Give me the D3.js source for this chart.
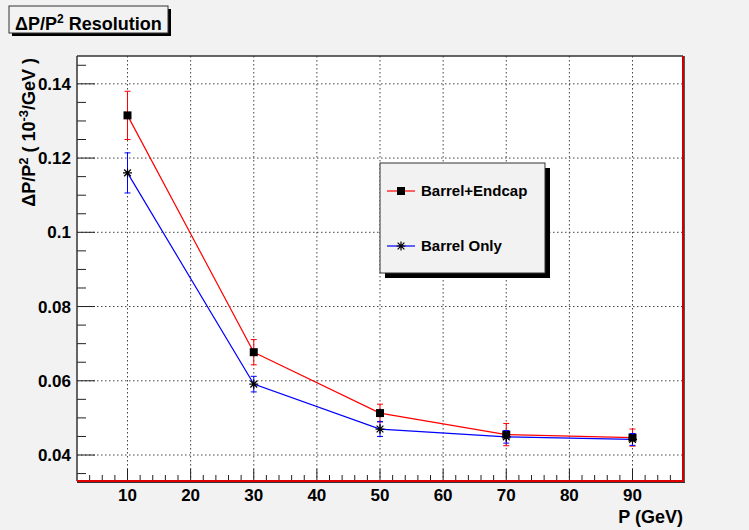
<!DOCTYPE html>
<html>
<head>
<meta charset="utf-8">
<script src="https://cdn.jsdelivr.net/npm/d3@7"></script>
<style>
  body { margin: 0; background: #f2f2f2; }
  text { font-family: "Liberation Sans", Arial, sans-serif; font-weight: bold; }
</style>
</head>
<body>
<script>
// momentum points (GeV)
var momenta = [10, 30, 50, 70, 90];

// Barrel+Endcap resolution and errors
var endcapValues = [0.1315, 0.0677, 0.0513, 0.0455, 0.0447];
var endcapErrors = [0.0065, 0.0034, 0.0024, 0.0030, 0.0023];

// Barrel only resolution and errors
var barrelValues = [0.1160, 0.0591, 0.0470, 0.0449, 0.0442];
var barrelErrors = [0.0054, 0.0021, 0.0020, 0.0017, 0.0016];

var xTicks = [10, 20, 30, 40, 50, 60, 70, 80, 90];
var yTicks = [0.04, 0.06, 0.08, 0.1, 0.12, 0.14];

var width = 749;
var height = 530;

var svg = d3.select("body").append("svg")
    .attr("width", width)
    .attr("height", height);

svg.append("rect")
    .attr("width", width)
    .attr("height", height)
    .attr("fill", "#f2f2f2");

var padL = 77, padR = 683, padT = 56, padB = 481;

var x = d3.scaleLinear().domain([2, 98]).range([padL, padR]);
var y = d3.scaleLinear().domain([0.033, 0.1475]).range([padB, padT]);

// plot area
svg.append("rect")
    .attr("x", padL).attr("y", padT)
    .attr("width", padR - padL).attr("height", padB - padT)
    .attr("fill", "white");

// grid
svg.append("g").selectAll("line")
    .data(xTicks)
    .enter().append("line")
    .attr("x1", function(d) { return x(d); })
    .attr("x2", function(d) { return x(d); })
    .attr("y1", padT).attr("y2", padB)
    .attr("stroke", "#444")
    .attr("stroke-dasharray", "1.5,2.5");

svg.append("g").selectAll("line")
    .data(yTicks)
    .enter().append("line")
    .attr("y1", function(d) { return y(d); })
    .attr("y2", function(d) { return y(d); })
    .attr("x1", padL).attr("x2", padR)
    .attr("stroke", "#444")
    .attr("stroke-dasharray", "1.5,2.5");

// minor / major ticks on x
var xMinor = d3.range(4, 98, 2);
svg.append("g").selectAll("line")
    .data(xMinor)
    .enter().append("line")
    .attr("x1", function(d) { return x(d); })
    .attr("x2", function(d) { return x(d); })
    .attr("y1", padB)
    .attr("y2", function(d) { return d % 10 == 0 ? padB - 12 : padB - 6; })
    .attr("stroke", "#222");

// minor / major ticks on y
var yMinor = d3.range(0.035, 0.1475, 0.005);
svg.append("g").selectAll("line")
    .data(yMinor)
    .enter().append("line")
    .attr("y1", function(d) { return y(d); })
    .attr("y2", function(d) { return y(d); })
    .attr("x1", padL)
    .attr("x2", function(d) { return Math.round(d * 1000) % 20 == 0 ? padL + 18 : padL + 9; })
    .attr("stroke", "#222");

// frame
svg.append("line").attr("x1", padL).attr("x2", padR).attr("y1", padT).attr("y2", padT)
    .attr("stroke", "#333").attr("stroke-width", 1.5);
svg.append("line").attr("x1", padL).attr("x2", padL).attr("y1", padT).attr("y2", padB)
    .attr("stroke", "#333").attr("stroke-width", 1.5);
svg.append("line").attr("x1", padR).attr("x2", padR).attr("y1", padT).attr("y2", padB)
    .attr("stroke", "#d00000").attr("stroke-width", 2);
svg.append("line").attr("x1", padR + 1.5).attr("x2", padR + 1.5).attr("y1", padT).attr("y2", padB + 1)
    .attr("stroke", "#555").attr("stroke-width", 1);
svg.append("line").attr("x1", padL).attr("x2", padR + 1).attr("y1", padB).attr("y2", padB)
    .attr("stroke", "#e00000").attr("stroke-width", 2);
svg.append("line").attr("x1", padL).attr("x2", padR + 2).attr("y1", padB + 1.5).attr("y2", padB + 1.5)
    .attr("stroke", "#333").attr("stroke-width", 1);

// tick labels
svg.append("g").selectAll("text")
    .data(xTicks)
    .enter().append("text")
    .attr("x", function(d) { return x(d); })
    .attr("y", 501)
    .attr("text-anchor", "middle")
    .attr("font-size", 17)
    .text(function(d) { return d; });

svg.append("g").selectAll("text")
    .data(yTicks)
    .enter().append("text")
    .attr("x", 71)
    .attr("y", function(d) { return y(d) + 6; })
    .attr("text-anchor", "end")
    .attr("font-size", 17)
    .text(function(d) { return d3.format("")(d); });

// axis titles
svg.append("text")
    .attr("x", padR).attr("y", 523)
    .attr("text-anchor", "end")
    .attr("font-size", 18)
    .text("P (GeV)");

var yt = svg.append("text")
    .attr("transform", "translate(35," + (padT + 2) + ") rotate(-90)")
    .attr("text-anchor", "end")
    .attr("font-size", 18);
yt.append("tspan").text("\u0394P/P");
yt.append("tspan").attr("dy", -7).attr("font-size", 13).text("2");
yt.append("tspan").attr("dy", 7).text(" ( 10");
yt.append("tspan").attr("dy", -7).attr("font-size", 13).text("-3");
yt.append("tspan").attr("dy", 7).text("/GeV )");

// series
function drawSeries(values, errors, color, marker) {
    var pts = momenta.map(function(m, i) { return {x: m, y: values[i], e: errors[i]}; });
    var line = d3.line()
        .x(function(d) { return x(d.x); })
        .y(function(d) { return y(d.y); });
    svg.append("path")
        .datum(pts)
        .attr("d", line)
        .attr("fill", "none")
        .attr("stroke", color)
        .attr("stroke-width", 1.2);

    var err = svg.append("g").attr("stroke", color).attr("stroke-width", 1);
    err.selectAll(".bar").data(pts).enter().append("line")
        .attr("x1", function(d) { return x(d.x); })
        .attr("x2", function(d) { return x(d.x); })
        .attr("y1", function(d) { return y(d.y - d.e); })
        .attr("y2", function(d) { return y(d.y + d.e); });
    err.selectAll(".capt").data(pts).enter().append("line")
        .attr("x1", function(d) { return x(d.x) - 3; })
        .attr("x2", function(d) { return x(d.x) + 3; })
        .attr("y1", function(d) { return y(d.y + d.e); })
        .attr("y2", function(d) { return y(d.y + d.e); });
    err.selectAll(".capb").data(pts).enter().append("line")
        .attr("x1", function(d) { return x(d.x) - 3; })
        .attr("x2", function(d) { return x(d.x) + 3; })
        .attr("y1", function(d) { return y(d.y - d.e); })
        .attr("y2", function(d) { return y(d.y - d.e); });

    pts.forEach(function(d) { marker(svg, x(d.x), y(d.y)); });
}

function squareMarker(g, cx, cy) {
    g.append("rect")
        .attr("x", cx - 4).attr("y", cy - 4)
        .attr("width", 8).attr("height", 8)
        .attr("fill", "black");
}

function starMarker(g, cx, cy) {
    var r = 4.5;
    var p = "M" + (cx - r) + "," + cy + "H" + (cx + r) +
            "M" + cx + "," + (cy - r) + "V" + (cy + r) +
            "M" + (cx - r * 0.75) + "," + (cy - r * 0.75) + "L" + (cx + r * 0.75) + "," + (cy + r * 0.75) +
            "M" + (cx - r * 0.75) + "," + (cy + r * 0.75) + "L" + (cx + r * 0.75) + "," + (cy - r * 0.75);
    g.append("path").attr("d", p).attr("stroke", "black").attr("stroke-width", 1.2).attr("fill", "none");
}

drawSeries(endcapValues, endcapErrors, "#ff0000", squareMarker);
drawSeries(barrelValues, barrelErrors, "#0000ff", starMarker);

// legend
var lx = 380, ly = 163, lw = 165, lh = 110;
svg.append("rect").attr("x", lx + 5).attr("y", ly + 5).attr("width", lw).attr("height", lh).attr("fill", "black");
svg.append("rect").attr("x", lx).attr("y", ly).attr("width", lw).attr("height", lh)
    .attr("fill", "#f2f2f2").attr("stroke", "#333").attr("stroke-width", 1);

var legendRows = [
    {label: "Barrel+Endcap", color: "#ff0000", marker: squareMarker, y: 191},
    {label: "Barrel Only", color: "#0000ff", marker: starMarker, y: 246}
];
legendRows.forEach(function(r) {
    svg.append("line").attr("x1", 387).attr("x2", 415).attr("y1", r.y).attr("y2", r.y)
        .attr("stroke", r.color).attr("stroke-width", 1.2);
    r.marker(svg, 401, r.y);
    svg.append("text").attr("x", 421).attr("y", r.y + 5)
        .attr("font-size", 15).text(r.label);
});

// title box
svg.append("rect").attr("x", 12).attr("y", 9).attr("width", 159).attr("height", 27).attr("fill", "black");
svg.append("rect").attr("x", 9).attr("y", 6).attr("width", 159).attr("height", 27)
    .attr("fill", "#f2f2f2").attr("stroke", "#333").attr("stroke-width", 1);
var tt = svg.append("text").attr("x", 15).attr("y", 30).attr("font-size", 18);
tt.append("tspan").text("\u0394P/P");
tt.append("tspan").attr("dy", -7).attr("font-size", 12).text("2");
tt.append("tspan").attr("dy", 7).text(" Resolution");
</script>
</body>
</html>
